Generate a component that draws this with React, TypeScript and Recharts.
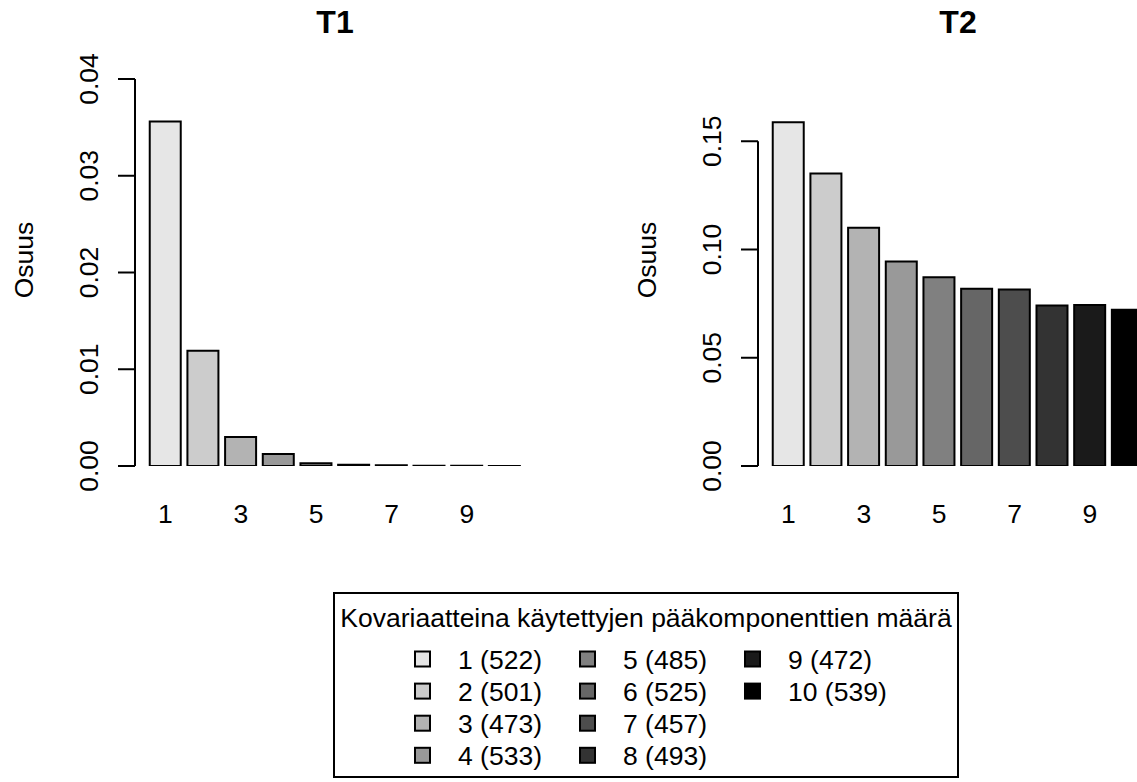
import { BarChart, Bar, XAxis, YAxis, Cell, ReferenceLine } from 'recharts';

// number of principal components used as covariates
const components = ['1', '2', '3', '4', '5', '6', '7', '8', '9', '10'];
const t1Share = [0.0356, 0.0119, 0.003, 0.00124, 0.00028, 0.00013, 0.00007, 0.00002, 0.00002, 0.00001];
const t2Share = [0.1588, 0.1351, 0.1101, 0.0944, 0.0872, 0.0819, 0.0815, 0.0741, 0.0744, 0.0722];
const sampleSizes = [522, 501, 473, 533, 485, 525, 457, 493, 472, 539];
const greys = ['#E6E6E6', '#CCCCCC', '#B3B3B3', '#999999', '#808080', '#666666', '#4D4D4D', '#333333', '#1A1A1A', '#000000'];
const t1Ticks = [0, 0.01, 0.02, 0.03, 0.04];
const t2Ticks = [0, 0.05, 0.1, 0.15];

const FONT = '"Liberation Sans", Arial, Helvetica, sans-serif';
const FS = 26.5;
const LW = 2;

const XTick = (props: any) => (
  <text x={props.x} y={props.y} textAnchor="middle" fontFamily={FONT} fontSize={FS} fill="#000">
    {props.payload.value}
  </text>
);

const YTick = (props: any) => (
  <text
    x={props.x}
    y={props.y}
    transform={`rotate(-90 ${props.x} ${props.y})`}
    textAnchor="middle"
    fontFamily={FONT}
    fontSize={FS}
    fill="#000"
  >
    {Number(props.payload.value).toFixed(2)}
  </text>
);

const YLabel = () => (
  <text x={33} y={260} transform="rotate(-90 33 260)" textAnchor="middle" fontFamily={FONT} fontSize={FS} fill="#000">
    Osuus
  </text>
);

type PanelProps = {
  title: string;
  values: number[];
  ticks: number[];
  domainMax: number;
  left: number;
  plotTop: number;
};

function Panel({ title, values, ticks, domainMax, left, plotTop }: PanelProps) {
  const data = components.map((c, i) => ({ comp: c, share: values[i] }));
  return (
    <div style={{ position: 'absolute', left, top: 0 }}>
      <BarChart
        width={560}
        height={545}
        data={data}
        margin={{ top: plotTop, right: 25, bottom: 9, left: 0 }}
        barCategoryGap="8.333%"
      >
        <XAxis
          xAxisId="cat"
          dataKey="comp"
          interval={1}
          axisLine={false}
          tickLine={false}
          tickSize={0}
          tickMargin={57}
          height={70}
          padding={{ left: 11.6, right: 11.6 }}
          tick={XTick}
        />
        <XAxis xAxisId="frame" type="number" domain={[0, 1]} allowDataOverflow hide />
        <YAxis
          width={135}
          domain={[0, domainMax]}
          ticks={ticks}
          interval={0}
          allowDataOverflow
          axisLine={false}
          tickSize={17}
          tickMargin={20}
          tickLine={{ stroke: '#000', strokeWidth: LW }}
          tick={YTick}
          label={YLabel}
        />
        <ReferenceLine
          xAxisId="frame"
          segment={[
            { x: 0, y: 0 },
            { x: 0, y: ticks[ticks.length - 1] },
          ]}
          stroke="#000"
          strokeWidth={LW}
          ifOverflow="visible"
        />
        <Bar xAxisId="cat" dataKey="share" stroke="#000" strokeWidth={LW} isAnimationActive={false}>
          {data.map((d, i) => (
            <Cell key={d.comp} fill={greys[i]} />
          ))}
        </Bar>
      </BarChart>
      <div
        style={{
          position: 'absolute',
          left: 135,
          top: 0,
          width: 400,
          textAlign: 'center',
          fontFamily: FONT,
          fontWeight: 'bold',
          fontSize: 32,
          lineHeight: '44px',
          color: '#000',
        }}
      >
        {title}
      </div>
    </div>
  );
}

function Legend() {
  return (
    <svg width={1137} height={782} style={{ position: 'absolute', left: 0, top: 0, pointerEvents: 'none' }}>
      <rect x={334} y={593} width={624} height={184} fill="none" stroke="#000" strokeWidth={LW} />
      <text x={646} y={627} textAnchor="middle" fontFamily={FONT} fontSize={FS} fill="#000">
        Kovariaatteina käytettyjen pääkomponenttien määrä
      </text>
      {components.map((c, i) => {
        const col = Math.floor(i / 4);
        const row = i % 4;
        const cy = 659 + row * 32.1;
        return (
          <g key={c}>
            <rect x={415 + col * 165} y={cy - 7.5} width={15} height={15} fill={greys[i]} stroke="#000" strokeWidth={LW} />
            <text x={458 + col * 165} y={cy + 9.5} fontFamily={FONT} fontSize={FS} fill="#000">
              {`${c} (${sampleSizes[i]})`}
            </text>
          </g>
        );
      })}
    </svg>
  );
}

export default function App() {
  return (
    <div style={{ position: 'absolute', left: 0, top: 0, width: 1137, height: 782, overflow: 'hidden', background: '#fff' }}>
      <Panel title="T1" values={t1Share} ticks={t1Ticks} domainMax={0.04} left={0} plotTop={79} />
      <Panel title="T2" values={t2Share} ticks={t2Ticks} domainMax={0.16} left={623} plotTop={119.6} />
      <Legend />
    </div>
  );
}
